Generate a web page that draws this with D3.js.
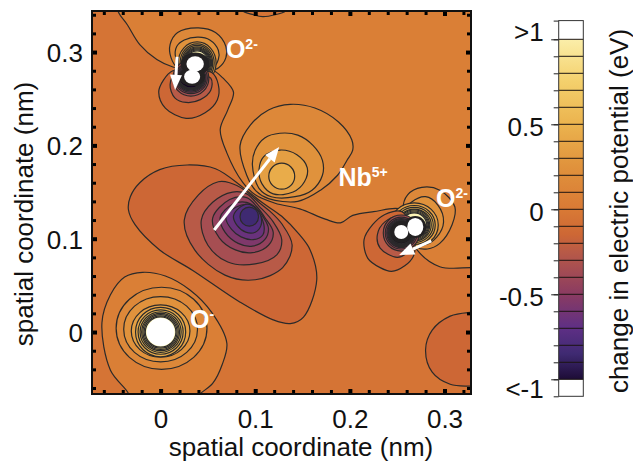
<!DOCTYPE html>
<html>
<head>
<meta charset="utf-8">
<script src="https://cdn.jsdelivr.net/npm/d3@7"></script>
<style>
  body { margin: 0; background: #fff; }
  text { font-family: "Liberation Sans", Arial, sans-serif; fill: #111; }
</style>
</head>
<body>
<svg id="chart" width="633" height="462"></svg>
<script>
// colour scale of the potential (eV)
const stopValues = [1, 0.75, 0.5, 0.25, 0, -0.15, -0.25, -0.5, -0.7, -0.85, -1];
const stopColors = ['#fbeea9', '#f4d06c', '#ebb34e', '#e0923c', '#d97a35', '#cd6735', '#b85a47', '#8a3b62', '#5e2f85', '#3f2a72', '#1d0c36'];
const barLevels = [-1, -0.9, -0.8, -0.7, -0.6, -0.5, -0.4, -0.3, -0.2, -0.1, 0, 0.1, 0.2, 0.3, 0.4, 0.5, 0.6, 0.7, 0.8, 0.9, 1];
const barMajor = [-1, -0.5, 0, 0.5, 1];
const barLabels = ['<-1', '-0.5', '0', '0.5', '>1'];
const barLabelAt = [-1.05, -0.51, -0.01, 0.49, 1.05];
const barEnds = [-1.1, 1.11];

// axis ticks (nm)
const majorTicks = [0, 0.1, 0.2, 0.3];
const xMinorTicks = [-0.06, -0.04, -0.02, 0.02, 0.04, 0.06, 0.08, 0.12, 0.14, 0.16, 0.18, 0.22, 0.24, 0.26, 0.28, 0.32];
const yMinorTicks = [-0.06, -0.04, -0.02, 0.02, 0.04, 0.06, 0.08, 0.12, 0.14, 0.16, 0.18, 0.22, 0.24, 0.26, 0.28, 0.32, 0.34];

// contour outlines in nm: each one is drawn at its level
const zeroUpper = [[-0.045,0.356],[-0.045,0.344],[-0.035,0.329],[-0.022,0.308],[-0.004,0.292],[0.013,0.284],[0.031,0.281],[0.054,0.281],[0.066,0.272],[0.077,0.257],[0.071,0.238],[0.063,0.217],[0.07,0.192],[0.087,0.16],[0.1,0.147],[0.121,0.138],[0.147,0.132],[0.174,0.121],[0.19,0.117],[0.203,0.125],[0.225,0.129],[0.255,0.131],[0.262,0.109],[0.271,0.088],[0.295,0.07],[0.328,0.069],[0.343,0.069],[0.343,0.356]];
const topNotch = [[0.079,0.356],[0.087,0.344],[0.098,0.34],[0.108,0.338],[0.121,0.34],[0.132,0.344],[0.139,0.356]];
const cornerLobe = [[0.343,0.021],[0.327,0.021],[0.306,0.017],[0.287,0.002],[0.28,-0.019],[0.287,-0.043],[0.306,-0.056],[0.327,-0.058],[0.343,-0.058]];
const oxygenOuter = [[-0.034,-0.073],[-0.034,-0.066],[-0.053,-0.041],[-0.062,0.01],[-0.053,0.04],[-0.038,0.059],[-0.019,0.064],[0.005,0.06],[0.031,0.045],[0.054,0.021],[0.07,-0.012],[0.065,-0.035],[0.055,-0.055],[0.042,-0.066],[0.036,-0.073]];

const nbUp01 = [[0.114,0.143],[0.101,0.151],[0.091,0.168],[0.084,0.2],[0.095,0.222],[0.114,0.238],[0.137,0.244],[0.163,0.24],[0.188,0.225],[0.202,0.206],[0.203,0.195],[0.197,0.184],[0.187,0.168],[0.169,0.152],[0.145,0.14]];
const nbUp02 = [[0.117,0.145],[0.104,0.154],[0.097,0.179],[0.1,0.195],[0.11,0.208],[0.126,0.213],[0.145,0.211],[0.161,0.2],[0.171,0.184],[0.171,0.168],[0.16,0.152],[0.142,0.145]];
const nbUp03 = [[0.119,0.148],[0.107,0.159],[0.104,0.174],[0.109,0.188],[0.126,0.195],[0.144,0.19],[0.155,0.176],[0.152,0.161],[0.14,0.15]];

const nbDown01 = [[-0.034,0.131],[-0.032,0.145],[-0.022,0.16],[-0.001,0.174],[0.028,0.179],[0.058,0.175],[0.087,0.155],[0.107,0.139],[0.128,0.124],[0.147,0.104],[0.158,0.088],[0.165,0.056],[0.151,0.016],[0.137,0.009],[0.119,0.013],[0.084,0.032],[0.034,0.066],[-0.001,0.088],[-0.027,0.115]];
const nbDown02 = [[0.025,0.12],[0.036,0.088],[0.068,0.061],[0.1,0.056],[0.129,0.069],[0.139,0.093],[0.128,0.116],[0.116,0.129],[0.105,0.138],[0.089,0.152],[0.073,0.16],[0.061,0.161],[0.04,0.147]];
const nbDown03 = [[0.043,0.12],[0.05,0.093],[0.071,0.075],[0.1,0.073],[0.123,0.083],[0.128,0.099],[0.119,0.118],[0.104,0.135],[0.091,0.148],[0.076,0.15],[0.055,0.139]];
const nbDown04 = [[0.055,0.122],[0.062,0.101],[0.079,0.088],[0.097,0.085],[0.114,0.093],[0.119,0.107],[0.11,0.123],[0.102,0.134],[0.091,0.144],[0.073,0.142]];
const nbDown05 = [[0.063,0.123],[0.068,0.107],[0.082,0.095],[0.097,0.092],[0.11,0.099],[0.114,0.111],[0.108,0.124],[0.101,0.133],[0.091,0.139],[0.076,0.137]];
const nbDown06 = [[0.069,0.123],[0.075,0.11],[0.085,0.102],[0.098,0.099],[0.108,0.104],[0.109,0.116],[0.103,0.129],[0.095,0.136],[0.08,0.134]];
const nbDown07 = [[0.077,0.124],[0.081,0.114],[0.09,0.107],[0.1,0.107],[0.106,0.114],[0.106,0.124],[0.101,0.132],[0.092,0.137],[0.083,0.133]];

const topUp01 = [[0.018,0.283],[0.011,0.294],[0.01,0.308],[0.018,0.321],[0.04,0.326],[0.058,0.321],[0.069,0.306],[0.069,0.294],[0.061,0.283],[0.05,0.28],[0.031,0.28]];
const topUp02 = [[0.023,0.283],[0.016,0.294],[0.017,0.306],[0.025,0.313],[0.04,0.316],[0.052,0.313],[0.061,0.302],[0.061,0.292],[0.054,0.282],[0.039,0.28]];
const topDown01 = [[0.013,0.28],[0.003,0.27],[-0.002,0.257],[0.005,0.24],[0.027,0.229],[0.047,0.235],[0.06,0.249],[0.061,0.265],[0.054,0.278],[0.031,0.279]];
const topDown02 = [[0.016,0.278],[0.01,0.265],[0.015,0.251],[0.027,0.246],[0.042,0.249],[0.053,0.259],[0.053,0.272],[0.033,0.277]];

const rightUp01 = [[0.256,0.131],[0.261,0.147],[0.276,0.155],[0.295,0.152],[0.311,0.134],[0.308,0.115],[0.295,0.095],[0.282,0.089],[0.271,0.091],[0.262,0.109]];
const rightUp02 = [[0.258,0.129],[0.265,0.139],[0.28,0.145],[0.293,0.136],[0.299,0.118],[0.292,0.102],[0.28,0.094],[0.266,0.101]];
const rightDown01 = [[0.255,0.129],[0.237,0.126],[0.224,0.115],[0.215,0.099],[0.219,0.079],[0.232,0.069],[0.244,0.065],[0.258,0.071],[0.267,0.081],[0.269,0.093],[0.264,0.115]];
const rightDown02 = [[0.251,0.123],[0.237,0.118],[0.229,0.104],[0.232,0.09],[0.25,0.08],[0.261,0.086],[0.265,0.099]];

// near-elliptic rings around the atoms: level, cx, cy, rx, ry (nm)
const oxygenRings = [[0.1,0.001,0.004,0.048,0.044],[0.2,0,0.003,0.039,0.035],[0.3,0,0.001,0.031,0.028],[0.4,0,0,0.0265,0.0265],[0.5,0,0,0.0238,0.0238],[0.6,0,0,0.0217,0.0217],[0.7,0,0,0.02,0.02],[0.8,0,0,0.0187,0.0187],[0.9,0,0,0.0174,0.0174],[1,0,0,0.0162,0.0162]];
const nbRings = [[0.4,0.128,0.167,0.0137,0.0139]];
const nbDownRings = [[-0.8,0.0937,0.1236,0.0098,0.0102]];
const topUpRings = [[0.3,0.0386,0.2884,0.02,0.0225],[0.4,0.0386,0.2884,0.018,0.0204],[0.5,0.0386,0.2884,0.0164,0.0188],[0.6,0.0386,0.2884,0.0153,0.0171],[0.7,0.0386,0.2884,0.0143,0.0161],[0.8,0.0386,0.2884,0.0135,0.015],[0.9,0.0386,0.2884,0.0127,0.0139],[1,0.0386,0.2884,0.0119,0.0129]];
const topDownRings = [[-0.3,0.032,0.272,0.019,0.0193],[-0.4,0.032,0.272,0.0174,0.0166],[-0.5,0.032,0.272,0.0159,0.015],[-0.6,0.032,0.272,0.0148,0.0137],[-0.7,0.032,0.272,0.014,0.0126],[-0.8,0.032,0.272,0.0133,0.0118],[-0.9,0.032,0.272,0.0127,0.011],[-1,0.032,0.272,0.0121,0.0103]];
const rightUpRings = [[0.3,0.268,0.1147,0.0254,0.0236],[0.4,0.268,0.1147,0.0222,0.0209],[0.5,0.268,0.1147,0.0201,0.0188],[0.6,0.268,0.1147,0.018,0.0171],[0.7,0.268,0.1147,0.0164,0.0161],[0.8,0.268,0.1147,0.0153,0.015],[0.9,0.268,0.1147,0.0143,0.0139],[1,0.268,0.1147,0.0132,0.0129]];
const rightDownRings = [[-0.3,0.2543,0.1061,0.019,0.0193],[-0.4,0.2543,0.1061,0.0169,0.0171],[-0.5,0.2543,0.1061,0.0153,0.0155],[-0.6,0.2543,0.1061,0.0143,0.0145],[-0.7,0.2543,0.1061,0.0134,0.0136],[-0.8,0.2543,0.1061,0.0127,0.0129],[-0.9,0.2543,0.1061,0.0121,0.0122],[-1,0.2543,0.1061,0.0114,0.0116]];

// centres where the contours run together, and the white off-scale holes: cx, cy, rx, ry (nm)
const denseCores = [[0.0365,0.2873,0.0153,0.0123],[0.0333,0.2735,0.0137,0.0102],[0.2691,0.1126,0.0116,0.0118],[0.2543,0.1072,0.0116,0.0118]];
const holes = [[0,0,0.0148,0.015],[0.0365,0.2873,0.0092,0.0082],[0.0333,0.2735,0.0085,0.0075],[0.2691,0.1126,0.0085,0.0096],[0.2543,0.1072,0.0074,0.0075]];

// polarisation arrows: tail x, tail y, tip x, tip y (nm)
const arrows = [[0.0174,0.295,0.0153,0.2594],[0.0566,0.1093,0.1253,0.1983],[0.286,0.0976,0.2521,0.0825]];

// ion labels: name, charge, x, y (nm)
const ionNames = ['O', 'Nb', 'O', 'O'];
const ionCharges = ['2-', '5+', '2-', '-'];
const ionX = [0.069, 0.188, 0.291, 0.031];
const ionY = [0.294, 0.1565, 0.134, 0.004];

const svg = d3.select('#chart');
const x = d3.scaleLinear([-0.0725, 0.328], [92, 471]);
const y = d3.scaleLinear([-0.0664, 0.344], [394, 11]);
const barY = d3.scaleLinear([-1, 1], [379.3, 39.3]);
const color = d3.scaleLinear(stopValues, stopColors);

// a band takes the colour of the values just past its contour
const bandColor = level => color(level >= 0 ? level + 0.05 : level - 0.05);
const lineColor = '#2b2a2a';
const labelSize = 26;
const ringLine = d3.line().x(d => x(d[0])).y(d => y(d[1])).curve(d3.curveCatmullRomClosed.alpha(0.5));

svg.append('clipPath').attr('id', 'plotClip').append('rect')
    .attr('x', x.range()[0]).attr('y', y.range()[1])
    .attr('width', x.range()[1] - x.range()[0]).attr('height', y.range()[0] - y.range()[1]);

const plot = svg.append('g').attr('clip-path', 'url(#plotClip)');

plot.append('rect')
    .attr('x', x.range()[0]).attr('y', y.range()[1])
    .attr('width', x.range()[1] - x.range()[0]).attr('height', y.range()[0] - y.range()[1])
    .attr('fill', bandColor(-0.001));

function drawRing(pts, level, fill) {
    plot.append('path').attr('d', ringLine(pts))
        .attr('fill', fill || bandColor(level))
        .attr('stroke', lineColor).attr('stroke-width', 1.2);
}
function drawEllipses(rows) {
    plot.selectAll(null).data(rows).enter().append('ellipse')
        .attr('cx', d => x(d[1])).attr('cy', d => y(d[2]))
        .attr('rx', d => x(d[3]) - x(0)).attr('ry', d => y(0) - y(d[4]))
        .attr('fill', d => bandColor(d[0]))
        .attr('stroke', lineColor).attr('stroke-width', 1.2);
}
function drawBlobs(rows, fill) {
    plot.selectAll(null).data(rows).enter().append('ellipse')
        .attr('cx', d => x(d[0])).attr('cy', d => y(d[1]))
        .attr('rx', d => x(d[2]) - x(0)).attr('ry', d => y(0) - y(d[3]))
        .attr('fill', fill);
}

// painted from the outside in, so every inner ring sits on its parent
drawRing(zeroUpper, 0);
drawRing(topNotch, -0.001);
drawRing(cornerLobe, -0.1);
drawRing(oxygenOuter, 0);
drawEllipses(oxygenRings);

drawRing(nbUp01, 0.1);
drawRing(nbUp02, 0.2);
drawRing(nbUp03, 0.3);
drawEllipses(nbRings);
drawRing(nbDown01, -0.1);
drawRing(nbDown02, -0.2);
drawRing(nbDown03, -0.3);
drawRing(nbDown04, -0.4);
drawRing(nbDown05, -0.5);
drawRing(nbDown06, -0.6);
drawRing(nbDown07, -0.7);
drawEllipses(nbDownRings);

drawRing(topUp01, 0.1);
drawRing(topUp02, 0.2);
drawEllipses(topUpRings);
drawRing(topDown01, -0.1);
drawRing(topDown02, -0.2);
drawEllipses(topDownRings);

drawRing(rightUp01, 0.1);
drawRing(rightUp02, 0.2);
drawEllipses(rightUpRings);
drawRing(rightDown01, -0.1);
drawRing(rightDown02, -0.2);
drawEllipses(rightDownRings);

drawBlobs(denseCores, '#232122');
drawBlobs(holes, '#fff');

// arrows
arrows.forEach(a => {
    const x0 = x(a[0]), y0 = y(a[1]), x1 = x(a[2]), y1 = y(a[3]);
    const len = Math.hypot(x1 - x0, y1 - y0);
    const ux = (x1 - x0) / len, uy = (y1 - y0) / len;
    const headLen = 15, headHalf = 6;
    const bx = x1 - ux * headLen, by = y1 - uy * headLen;
    plot.append('line')
        .attr('x1', x0).attr('y1', y0)
        .attr('x2', bx).attr('y2', by)
        .attr('stroke', '#fff').attr('stroke-width', 3);
    plot.append('path')
        .attr('d', `M${x1},${y1}L${bx - uy * headHalf},${by + ux * headHalf}L${bx + uy * headHalf},${by - ux * headHalf}Z`)
        .attr('fill', '#fff');
});

// ion labels
ionNames.forEach((name, i) => {
    const t = svg.append('text')
        .attr('x', x(ionX[i])).attr('y', y(ionY[i]))
        .attr('font-size', 25).attr('font-weight', 'bold')
        .style('fill', '#fff');
    t.append('tspan').text(name);
    t.append('tspan').attr('font-size', 14).attr('dy', -9).text(ionCharges[i]);
});

// frame and ticks on all four sides
function addTicks(axisFn, minorTicks, pos, labelled) {
    const minor = svg.append('g').attr('transform', pos)
        .call(axisFn.tickValues(minorTicks).tickSize(-4).tickFormat(''));
    minor.select('.domain').remove();
    minor.selectAll('line').attr('stroke', '#000').attr('stroke-width', 3);
    const major = svg.append('g').attr('transform', pos)
        .call(axisFn.tickValues(majorTicks).tickSize(-5).tickPadding(16)
            .tickFormat(labelled ? d3.format('') : ''));
    major.select('.domain').remove();
    major.selectAll('line').attr('stroke', '#000').attr('stroke-width', 4);
    major.selectAll('text').attr('font-size', labelSize);
    return major;
}
const bottomAxis = addTicks(d3.axisBottom(x), xMinorTicks, 'translate(0,394)', true);
bottomAxis.selectAll('text').attr('dy', null).attr('y', 34);
addTicks(d3.axisTop(x), xMinorTicks, 'translate(0,11)', false);
const leftAxis = addTicks(d3.axisLeft(y), yMinorTicks, 'translate(92,0)', true);
leftAxis.selectAll('text').attr('x', -9).attr('dy', '0.36em');
addTicks(d3.axisRight(y), yMinorTicks, 'translate(471,0)', false);

svg.append('rect')
    .attr('x', 92).attr('y', 11).attr('width', 379).attr('height', 383)
    .attr('fill', 'none').attr('stroke', '#111').attr('stroke-width', 2);

svg.append('text').attr('x', 301).attr('y', 456)
    .attr('text-anchor', 'middle').attr('font-size', labelSize)
    .text('spatial coordinate (nm)');
svg.append('text').attr('transform', 'translate(33,214) rotate(-90)')
    .attr('text-anchor', 'middle').attr('font-size', labelSize)
    .text('spatial coordinate (nm)');

// colour bar
const grad = svg.append('linearGradient').attr('id', 'barGrad')
    .attr('x1', 0).attr('y1', 1).attr('x2', 0).attr('y2', 0);
stopValues.slice().reverse().forEach(v => {
    grad.append('stop').attr('offset', (v + 1) / 2)
        .attr('stop-color', color(v));
});
const barLeft = 558.7, barRight = 583.3;
svg.append('rect')
    .attr('x', barLeft).attr('y', barY(1))
    .attr('width', barRight - barLeft).attr('height', barY(-1) - barY(1))
    .attr('fill', 'url(#barGrad)');
svg.selectAll(null).data(barLevels).enter().append('line')
    .attr('x1', barLeft).attr('x2', barRight)
    .attr('y1', d => barY(d)).attr('y2', d => barY(d))
    .attr('stroke', '#1c1412').attr('stroke-width', 1);

const barMinorAxis = svg.append('g').attr('transform', `translate(${barLeft},0)`)
    .call(d3.axisLeft(barY).tickValues(barLevels.concat(barEnds)).tickSize(5).tickFormat(''));
barMinorAxis.select('.domain').remove();
barMinorAxis.selectAll('line').attr('stroke', '#222');
const barMajorAxis = svg.append('g').attr('transform', `translate(${barLeft},0)`)
    .call(d3.axisLeft(barY).tickValues(barMajor).tickSize(7.5).tickFormat(''));
barMajorAxis.select('.domain').remove();
barMajorAxis.selectAll('line').attr('stroke', '#222');

// the two end labels sit in the off-scale boxes, not on their ticks
const barLabelAxis = svg.append('g').attr('transform', `translate(${barLeft},0)`)
    .call(d3.axisLeft(barY).tickValues(barLabelAt).tickSize(0).tickPadding(15)
        .tickFormat((d, i) => barLabels[i]));
barLabelAxis.select('.domain').remove();
barLabelAxis.selectAll('text').attr('font-size', labelSize).attr('dy', '0.36em');

// frame of the bar with the two off-scale boxes
svg.append('rect')
    .attr('x', barLeft).attr('y', barY(barEnds[1]))
    .attr('width', barRight - barLeft).attr('height', barY(barEnds[0]) - barY(barEnds[1]))
    .attr('fill', 'none').attr('stroke', '#333').attr('stroke-width', 1);

svg.append('text').attr('transform', 'translate(628,211) rotate(-90)')
    .attr('text-anchor', 'middle').attr('font-size', labelSize)
    .text('change in electric potential (eV)');
</script>
</body>
</html>
